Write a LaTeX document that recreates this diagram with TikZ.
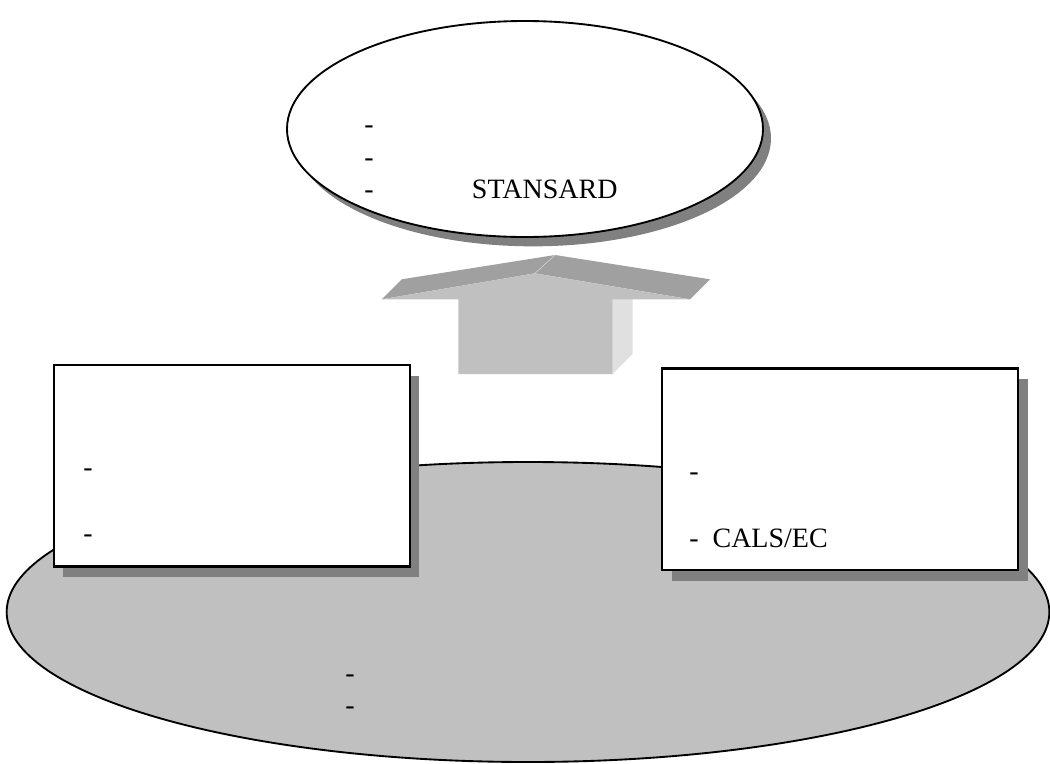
\documentclass[tikz,border=0pt]{standalone}
\usepackage{fontspec}
\setmainfont{Liberation Serif}
\usetikzlibrary{shapes.geometric, shadows}
\definecolor{shadegray}{RGB}{128,128,128}
\definecolor{basegray}{RGB}{192,192,192}
\definecolor{headgray}{RGB}{160,160,160}
\definecolor{sidegray}{RGB}{224,224,224}
\tikzstyle{oval} = [ellipse, draw, line width=1.4pt, inner sep=0pt]
\tikzstyle{panel} = [rectangle, draw, fill=white, line width=1.6pt, inner sep=0pt, minimum width=267pt, minimum height=151pt, drop shadow={shadow xshift=7pt, shadow yshift=-8pt, fill=shadegray, opacity=1}]
\tikzstyle{item} = [anchor=base west, inner sep=0pt, font=\fontsize{21}{24}\selectfont]

\begin{document}
\begin{tikzpicture}[x=0.75pt, y=-0.75pt]
	\useasboundingbox (0,0) rectangle (1050,764);
	% base
	\node[oval, fill=basegray, minimum width=782pt, minimum height=225pt] (base) at (528,612) {};
	\node[item] (base1) at (345,682) {-};
	\node[item] (base2) at (345,714) {-};
	% side panels
	\node[panel] (left) at (231.7,465.8) {};
	\node[item] (left1) at (83,476) {-};
	\node[item] (left2) at (83,542) {-};
	\node[panel] (right) at (840.3,469.2) {};
	\node[item] (right1) at (689,480) {-};
	\node[item] (right2) at (689,547) {-\ \ CALS/EC};
	% block arrow
	\fill[sidegray] (612.7,374) -- (632.7,354) -- (632.7,290) -- (612.7,299.3) -- cycle;
	\fill[headgray] (381.7,299.3) -- (401.7,279.3) -- (555,255) -- (535,273.3) -- cycle;
	\fill[headgray] (535,273.3) -- (555,255) -- (710,279.3) -- (690,299.3) -- cycle;
	\draw[sidegray, line width=0.3pt] (535,273.3) -- (555,255);
	\fill[basegray] (381.7,299.3) -- (535,273.3) -- (690,299.3) -- (612.7,299.3) -- (612.7,374) -- (458.3,374) -- (458.3,299.3) -- cycle;
	% top
	\node[oval, fill=white, minimum width=357pt, minimum height=162pt, drop shadow={shadow xshift=6pt, shadow yshift=-7pt, fill=shadegray, opacity=1}] (goal) at (525,129) {};
	\node[item] (goal1) at (364,133) {-};
	\node[item] (goal2) at (364,166) {-};
	\node[item] (goal3) at (364,198.5) {-};
	\node[item] (goal4) at (471.7,198.5) {STANSARD};
\end{tikzpicture}
\end{document}
